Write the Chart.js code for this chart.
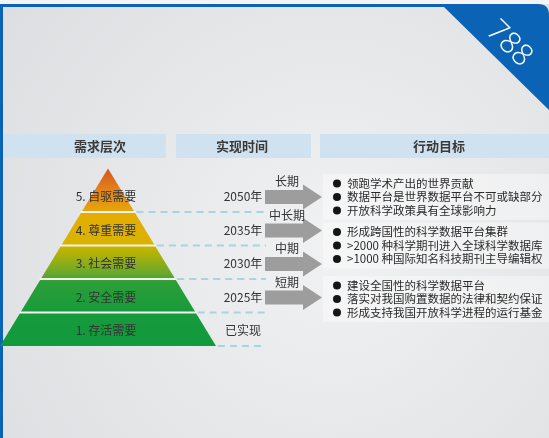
<!DOCTYPE html>
<html>
<head>
<meta charset="utf-8">
<script src="https://cdn.jsdelivr.net/npm/chart.js@4.4.1/dist/chart.umd.min.js"></script>
<style>
html, body { margin: 0; padding: 0; background: #e5e6e8; }
#wrap { width: 549px; height: 438px; }
</style>
</head>
<body>
<div id="wrap"><canvas id="myChart" width="549" height="438"></canvas></div>
<script>
const headers = ['需求层次', '实现时间', '行动目标'];
const levels = ['1. 存活需要', '2. 安全需要', '3. 社会需要', '4. 尊重需要', '5. 自驱需要'];
const years = ['已实现', '2025年', '2030年', '2035年', '2050年'];
const terms = ['', '短期', '中期', '中长期', '长期'];
const goalsLong = ['领跑学术产出的世界贡献', '数据平台是世界数据平台不可或缺部分', '开放科学政策具有全球影响力'];
const goalsMid = ['形成跨国性的科学数据平台集群', '>2000 种科学期刊进入全球科学数据库', '>1000 种国际知名科技期刊主导编辑权'];
const goalsShort = ['建设全国性的科学数据平台', '落实对我国购置数据的法律和契约保证', '形成支持我国开放科学进程的运行基金'];
const pageNo = '788';

const FONT = "'Noto Sans CJK SC', 'Noto Sans', sans-serif";
const APEX = 5.3;      // apex of the pyramid, in level units
const CX = 108;        // pyramid centre
const BASE = 108;      // half width of the base
const halfW = (v) => BASE * (APEX - v) / APEX;

const pyramidPlugin = {
    id: 'pyramid',
    beforeDraw(chart) {
        const ctx = chart.ctx;
        const w = chart.width, h = chart.height;
        ctx.save();
        // page background
        ctx.fillStyle = '#f4f4f5';
        ctx.fillRect(0, 0, w, h);
        const bg = ctx.createRadialGradient(330, 250, 10, 330, 250, 430);
        bg.addColorStop(0, '#f0f1f2');
        bg.addColorStop(1, '#dcdde0');
        ctx.fillStyle = bg;
        ctx.fillRect(0, 4, w, h - 4);
        // blue frame
        ctx.fillStyle = '#0b63b5';
        ctx.fillRect(0, 4, 3, h - 4);
        ctx.beginPath();
        ctx.moveTo(0, 4);
        ctx.lineTo(538, 4);
        ctx.quadraticCurveTo(549, 4, 549, 15);
        ctx.lineTo(549, 110);
        ctx.lineTo(444, 7);
        ctx.lineTo(0, 7);
        ctx.closePath();
        ctx.fill();
        // page number
        ctx.translate(509, 44);
        ctx.rotate(Math.PI / 4);
        ctx.fillStyle = '#ffffff';
        ctx.font = "300 30px 'Open Sans', 'Lato', sans-serif";
        ctx.textAlign = 'center';
        ctx.textBaseline = 'middle';
        ctx.fillText(pageNo, 0, 0);
        ctx.restore();
    },
    afterDraw(chart) {
        const ctx = chart.ctx;
        const X = (v) => chart.scales.x.getPixelForValue(v);
        const Y = (v) => chart.scales.y.getPixelForValue(v);
        ctx.save();

        // header bars
        const heads = [[3, 166], [176, 311], [320, 549]];
        ctx.font = 'bold 13px ' + FONT;
        ctx.textAlign = 'center';
        ctx.textBaseline = 'middle';
        heads.forEach((hb, i) => {
            ctx.fillStyle = '#d0e2ef';
            ctx.fillRect(hb[0], 134, hb[1] - hb[0], 24);
            ctx.fillStyle = '#3a3a3a';
            const tx = i === 2 ? 439 : (i === 0 ? 100 : 242);
            ctx.fillText(headers[i], tx, 146);
        });

        // pyramid
        const top = Y(APEX), bot = Y(0);
        const grad = ctx.createLinearGradient(0, top, 0, bot);
        grad.addColorStop(0, '#d4561c');
        grad.addColorStop(0.12, '#e2821a');
        grad.addColorStop(0.24, '#e7a40a');
        grad.addColorStop(0.26, '#e5ad00');
        grad.addColorStop(0.42, '#d9b300');
        grad.addColorStop(0.45, '#c4b400');
        grad.addColorStop(0.60, '#62a82e');
        grad.addColorStop(0.64, '#2c9f37');
        grad.addColorStop(0.82, '#169a3c');
        grad.addColorStop(1, '#129a3d');
        ctx.beginPath();
        ctx.moveTo(X(CX), top);
        ctx.lineTo(X(CX + halfW(0)), bot);
        ctx.lineTo(X(CX - halfW(0)), bot);
        ctx.closePath();
        ctx.fillStyle = grad;
        ctx.fill();

        // white separators between levels
        ctx.strokeStyle = '#f2f4f2';
        ctx.lineWidth = 2;
        for (let i = 1; i < levels.length; i++) {
            ctx.beginPath();
            ctx.moveTo(X(CX - halfW(i)) - 1, Y(i));
            ctx.lineTo(X(CX + halfW(i)) + 1, Y(i));
            ctx.stroke();
        }

        // dashed guides to the timeline
        ctx.strokeStyle = '#a8d3df';
        ctx.lineWidth = 2;
        ctx.setLineDash([7, 5]);
        for (let i = 0; i < levels.length; i++) {
            ctx.beginPath();
            ctx.moveTo(X(CX + halfW(i)) + 2, Y(i));
            ctx.lineTo(X(266), Y(i));
            ctx.stroke();
        }
        ctx.setLineDash([]);

        // level names and years
        ctx.font = '12px ' + FONT;
        ctx.textAlign = 'center';
        ctx.textBaseline = 'middle';
        levels.forEach((name, i) => {
            ctx.fillStyle = '#333333';
            ctx.fillText(name, X(CX - 2), Y(i + 0.45));
            ctx.fillText(years[i], X(243), Y(i + 0.45));
        });

        // arrows with term labels
        for (let i = 1; i < terms.length; i++) {
            const cy = Y(i + 0.45);
            ctx.fillStyle = '#9d9d9d';
            ctx.beginPath();
            ctx.moveTo(X(265), cy - 7);
            ctx.lineTo(X(303), cy - 7);
            ctx.lineTo(X(303), cy - 12.5);
            ctx.lineTo(X(322), cy);
            ctx.lineTo(X(303), cy + 12.5);
            ctx.lineTo(X(303), cy + 7);
            ctx.lineTo(X(265), cy + 7);
            ctx.closePath();
            ctx.fill();
            ctx.fillStyle = '#333333';
            ctx.font = '12px ' + FONT;
            ctx.fillText(terms[i], X(287), cy - 15);
        }

        // goal boxes
        const groups = [[goalsLong, 4.45], [goalsMid, 3.0], [goalsShort, 1.4]];
        ctx.font = '11.5px ' + FONT;
        ctx.textAlign = 'left';
        groups.forEach(([lines, c]) => {
            const cy = Y(c);
            ctx.fillStyle = 'rgba(255,255,255,0.38)';
            ctx.fillRect(X(323), cy - 23, X(549) - X(323), 46);
            lines.forEach((t, k) => {
                const ly = cy + (k - 1) * 13.5;
                ctx.fillStyle = '#151515';
                ctx.beginPath();
                ctx.arc(X(337), ly, 4, 0, Math.PI * 2);
                ctx.fill();
                ctx.fillStyle = '#2a2a2a';
                ctx.fillText(t, X(347), ly);
            });
        });
        ctx.restore();
    }
};

const ctx = document.getElementById('myChart').getContext('2d');
const myChart = new Chart(ctx, {
    type: 'scatter',
    data: {
        labels: levels,
        datasets: [{
            data: levels.map((l, i) => ({ x: CX, y: i + 0.45 })),
            pointRadius: 0
        }]
    },
    options: {
        responsive: false,
        animation: false,
        devicePixelRatio: 1,
        events: [],
        layout: { padding: 0 },
        scales: {
            x: { type: 'linear', min: 0, max: 549, display: false },
            y: { type: 'linear', min: -2.746, max: 10.328, display: false }
        },
        plugins: {
            legend: { display: false },
            tooltip: { enabled: false }
        }
    },
    plugins: [pyramidPlugin]
});
</script>
</body>
</html>
